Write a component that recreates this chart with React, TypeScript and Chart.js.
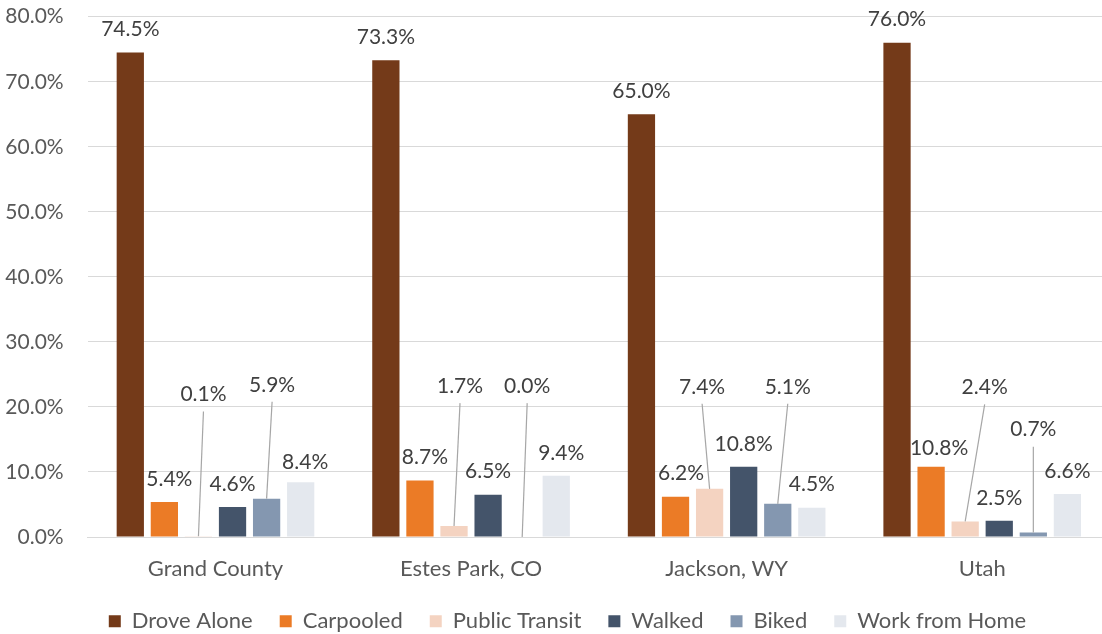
import React, { useEffect, useRef } from "react";
import { Chart, registerables } from "chart.js";

Chart.register(...registerables);

const categories = ["Grand County", "Estes Park, CO", "Jackson, WY", "Utah"];
const seriesNames = ["Drove Alone", "Carpooled", "Public Transit", "Walked", "Biked", "Work from Home"];
const droveAlone = [74.5, 73.3, 65.0, 76.0];
const carpooled = [5.4, 8.7, 6.2, 10.8];
const publicTransit = [0.1, 1.7, 7.4, 2.4];
const walked = [4.6, 6.5, 10.8, 2.5];
const biked = [5.9, 0.0, 5.1, 0.7];
const workFromHome = [8.4, 9.4, 4.5, 6.6];
const yTickValues = [0, 10, 20, 30, 40, 50, 60, 70, 80];

const seriesValues = [droveAlone, carpooled, publicTransit, walked, biked, workFromHome];
const seriesColors = ["#743A19", "#EB7B26", "#F4D3C1", "#44546A", "#8497B0", "#E4E8EE"];

// Callout labels (label centre in value units, horizontal shift in px)
const callouts = [
  { series: 2, cat: 0, labelValue: 21.9, dx: 5 },
  { series: 4, cat: 0, labelValue: 23.4, dx: 5.5 },
  { series: 2, cat: 1, labelValue: 23.2, dx: 6 },
  { series: 4, cat: 1, labelValue: 23.2, dx: 5 },
  { series: 2, cat: 2, labelValue: 23.1, dx: -7.5 },
  { series: 4, cat: 2, labelValue: 23.1, dx: 10 },
  { series: 2, cat: 3, labelValue: 23.0, dx: 19.5 },
  { series: 4, cat: 3, labelValue: 16.5, dx: 0 },
];

// Small nudges of plain labels (px)
const labelNudges = [
  { series: 1, cat: 0, dx: 5, dy: 0 },
  { series: 5, cat: 0, dx: 4.5, dy: 3 },
  { series: 1, cat: 1, dx: 5, dy: 0 },
  { series: 5, cat: 1, dx: 5, dy: 0 },
  { series: 1, cat: 2, dx: 5.5, dy: 0 },
  { series: 1, cat: 3, dx: 8, dy: 4 },
];

const FONT = "Lato, 'Open Sans', sans-serif";

const labelPlugin = {
  id: "barLabels",
  afterDatasetsDraw(chart: any) {
    const ctx = chart.ctx;
    const yScale = chart.scales.y;
    ctx.save();
    ctx.font = `21px ${FONT}`;
    ctx.textAlign = "center";
    ctx.textBaseline = "middle";
    chart.data.datasets.forEach((ds: any, i: number) => {
      const meta = chart.getDatasetMeta(i);
      meta.data.forEach((bar: any, j: number) => {
        const v = ds.data[j];
        const text = v.toFixed(1) + "%";
        const c = callouts.find((k) => k.series === i && k.cat === j);
        if (c) {
          const ly = yScale.getPixelForValue(c.labelValue);
          const lx = bar.x + c.dx;
          ctx.strokeStyle = "#A6A6A6";
          ctx.lineWidth = 1.2;
          ctx.beginPath();
          ctx.moveTo(lx, ly + 17);
          ctx.lineTo(bar.x, bar.y);
          ctx.stroke();
          ctx.fillStyle = "#404040";
          ctx.fillText(text, lx, ly);
        } else {
          const n = labelNudges.find((k) => k.series === i && k.cat === j);
          const dx = n ? n.dx : 0;
          const dy = n ? n.dy : 0;
          ctx.fillStyle = "#404040";
          ctx.fillText(text, bar.x + dx, bar.y - 23 + dy);
        }
      });
    });
    ctx.restore();
  },
};

export default function App() {
  const ref = useRef<HTMLCanvasElement | null>(null);
  useEffect(() => {
    if (!ref.current) return;
    const chart = new Chart(ref.current, {
      type: "bar",
      data: {
        labels: categories,
        datasets: seriesNames.map((name, i) => ({
          label: name,
          data: seriesValues[i],
          backgroundColor: seriesColors[i],
          borderWidth: 0,
          categoryPercentage: 0.8,
          barPercentage: 0.8,
        })),
      },
      options: {
        animation: false,
        responsive: true,
        maintainAspectRatio: false,
        layout: { padding: { top: 16.7, right: 0, bottom: 0, left: 0 } },
        plugins: {
          tooltip: { enabled: false },
          legend: {
            position: "bottom",
            labels: {
              boxWidth: 12,
              boxHeight: 12,
              padding: 27,
              color: "#595959",
              font: { family: FONT, size: 22 },
            },
          },
        },
        scales: {
          x: {
            grid: { display: false, drawTicks: false },
            border: { display: true, color: "#D9D9D9", width: 1 },
            ticks: { color: "#595959", font: { family: FONT, size: 22 }, padding: 19 },
            afterFit: (s: any) => {
              s.height = 46.3;
            },
          },
          y: {
            min: 0,
            max: 80,
            afterBuildTicks: (s: any) => {
              s.ticks = yTickValues.map((v) => ({ value: v }));
            },
            grid: { color: "#D9D9D9", lineWidth: 1, drawTicks: false },
            border: { display: false },
            ticks: {
              color: "#595959",
              font: { family: FONT, size: 21 },
              padding: 24,
              callback: (v: any) => Number(v).toFixed(1) + "%",
            },
            afterFit: (s: any) => {
              s.width = 87.7;
              s.paddingTop = 0;
              s.paddingBottom = 0;
            },
          },
          yRight: {
            position: "right",
            display: true,
            min: 0,
            max: 80,
            grid: { display: false, drawTicks: false },
            border: { display: false },
            ticks: { display: false },
            afterFit: (s: any) => {
              s.width = 25;
              s.paddingTop = 0;
              s.paddingBottom = 0;
            },
          },
        },
      },
      plugins: [labelPlugin],
    });
    return () => chart.destroy();
  }, []);
  return (
    <div style={{ position: "fixed", left: 0, top: 0, width: 1102, height: 634, overflow: "hidden", background: "#fff" }}>
      <div style={{ position: "relative", width: 1135, height: 642.3 }}>
        <canvas ref={ref} />
      </div>
    </div>
  );
}
